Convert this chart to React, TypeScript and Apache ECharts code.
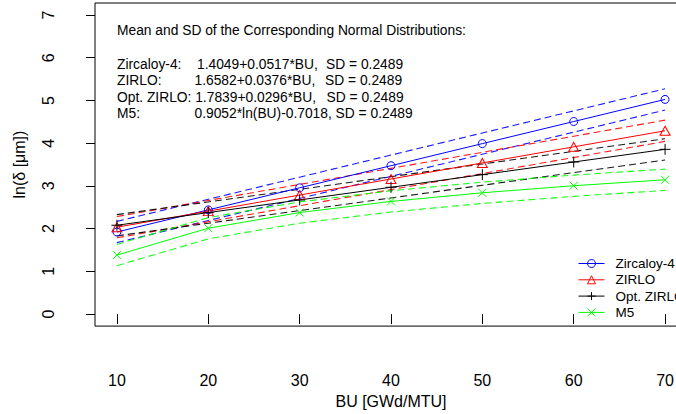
import React, { useEffect, useRef } from "react";
import * as echarts from "echarts";

// Burnup values (x)
const bu = [10, 20, 30, 40, 50, 60, 70];

// Mean of ln(delta) for each alloy
const zircMean = [1.9219, 2.4389, 2.9559, 3.4729, 3.9899, 4.5069, 5.0239];
const zirloMean = [2.0342, 2.4102, 2.7862, 3.1622, 3.5382, 3.9142, 4.2902];
const optMean = [2.0799, 2.3759, 2.6719, 2.9679, 3.2639, 3.5599, 3.8559];
const m5Mean = [1.3825, 2.0099, 2.377, 2.6374, 2.8394, 3.0044, 3.1439];

// Upper / lower dashed bands (mean +/- SD)
const zircUpper = [2.1708, 2.6878, 3.2048, 3.7218, 4.2388, 4.7558, 5.2728];
const zircLower = [1.673, 2.19, 2.707, 3.224, 3.741, 4.258, 4.775];
const zirloUpper = [2.2831, 2.6591, 3.0351, 3.4111, 3.7871, 4.1631, 4.5391];
const zirloLower = [1.7853, 2.1613, 2.5373, 2.9133, 3.2893, 3.6653, 4.0413];
const optUpper = [2.3288, 2.6248, 2.9208, 3.2168, 3.5128, 3.8088, 4.1048];
const optLower = [1.831, 2.127, 2.423, 2.719, 3.015, 3.311, 3.607];
const m5Upper = [1.6314, 2.2588, 2.6259, 2.8863, 3.0883, 3.2533, 3.3928];
const m5Lower = [1.1336, 1.761, 2.1281, 2.3885, 2.5905, 2.7555, 2.895];

const xTicks = [10, 20, 30, 40, 50, 60, 70];
const yTicks = [0, 1, 2, 3, 4, 5, 6, 7];

const seriesNames = ["Zircaloy-4", "ZIRLO", "Opt. ZIRLO", "M5"];

const FONT = "Liberation Sans, Arial, Helvetica, sans-serif";

const pairs = (v: number[]) => bu.map((x, i) => [x, v[i]]);

export default function App() {
  const ref = useRef<HTMLDivElement>(null);

  useEffect(() => {
    if (!ref.current) return;
    const chart = echarts.init(ref.current, null, { renderer: "svg" });

    const colors = ["#0000FF", "#FF0000", "#000000", "#00FF00"];
    const means = [zircMean, zirloMean, optMean, m5Mean];
    const uppers = [zircUpper, zirloUpper, optUpper, m5Upper];
    const lowers = [zircLower, zirloLower, optLower, m5Lower];
    const symbols = [
      "circle",
      "triangle",
      "path://M5,0L5,10M0,5L10,5",
      "path://M0,0L10,10M10,0L0,10",
    ];
    const symbolSizes: any[] = [8, [10, 9], 11, 8];

    const dashed: any[] = [];
    means.forEach((_, k) => {
      [uppers[k], lowers[k]].forEach((arr, j) => {
        dashed.push({
          name: seriesNames[k] + (j === 0 ? " upper" : " lower"),
          type: "line",
          data: pairs(arr),
          symbol: "none",
          silent: true,
          lineStyle: { color: colors[k], width: 1.1, type: [7, 4], opacity: 0.9 },
          z: 2,
        });
      });
    });

    const solid = means.map((arr, k) => ({
      name: seriesNames[k],
      type: "line",
      data: pairs(arr),
      symbol: symbols[k],
      symbolSize: symbolSizes[k],
      silent: true,
      lineStyle: { color: colors[k], width: 1 },
      itemStyle: { color: "rgba(0,0,0,0)", borderColor: colors[k], borderWidth: 1 },
      emphasis: { disabled: true },
      z: 3,
    }));

    const txt = (x: number, y: number, text: string) => ({
      type: "text",
      x,
      y,
      style: {
        text,
        font: `13.8px ${FONT}`,
        fill: "#000",
        textVerticalAlign: "middle",
        verticalAlign: "middle",
      },
    });

    chart.setOption({
      animation: false,
      textStyle: { fontFamily: FONT },
      grid: {
        left: 95,
        top: 3,
        right: 3,
        bottom: 87,
        show: true,
        borderColor: "#000",
        borderWidth: 1,
        containLabel: false,
      },
      xAxis: {
        type: "value",
        min: 7.6,
        max: 72.4,
        axisLine: { show: false },
        splitLine: { show: false },
        axisTick: {
          show: true,
          length: 10,
          customValues: xTicks,
          lineStyle: { color: "#000", width: 1 },
        },
        axisLabel: {
          customValues: xTicks,
          margin: 46,
          fontSize: 16,
          color: "#000",
          fontFamily: FONT,
        },
        name: "BU [GWd/MTU]",
        nameLocation: "middle",
        nameGap: 64,
        nameTextStyle: { fontSize: 16, color: "#000", fontFamily: FONT },
      },
      yAxis: {
        type: "value",
        min: -0.28,
        max: 7.28,
        axisLine: { show: false },
        splitLine: { show: false },
        axisTick: {
          show: true,
          length: 9,
          customValues: yTicks,
          lineStyle: { color: "#000", width: 1 },
        },
        axisLabel: {
          customValues: yTicks,
          rotate: 90,
          margin: 39,
          fontSize: 16,
          color: "#000",
          fontFamily: FONT,
        },
        name: "ln(δ [μm])",
        nameLocation: "middle",
        nameRotate: 90,
        nameGap: 68,
        nameTextStyle: { fontSize: 16, color: "#000", fontFamily: FONT },
      },
      legend: {
        data: seriesNames,
        orient: "vertical",
        left: 573,
        top: 251.5,
        itemWidth: 26,
        itemHeight: 10,
        itemGap: 2.3,
        selectedMode: false,
        lineStyle: { width: 1 },
        itemStyle: { borderWidth: 1 },
        textStyle: {
          fontSize: 13.5,
          lineHeight: 14,
          color: "#000",
          fontFamily: FONT,
          padding: [0, 0, 0, 6],
        },
      },
      graphic: [
        txt(117, 30, "Mean and SD of the Corresponding Normal Distributions:"),
        txt(117, 64, "Zircaloy-4:"),
        txt(197, 64, "1.4049+0.0517*BU,"),
        txt(326, 64, "SD = 0.2489"),
        txt(117, 80.5, "ZIRLO:"),
        txt(194.5, 80.5, "1.6582+0.0376*BU,"),
        txt(325, 80.5, "SD = 0.2489"),
        txt(117, 97, "Opt. ZIRLO: 1.7839+0.0296*BU,"),
        txt(326.5, 97, "SD = 0.2489"),
        txt(117, 113.5, "M5:"),
        txt(194.5, 113.5, "0.9052*ln(BU)-0.7018, SD = 0.2489"),
      ],
      series: [...dashed, ...solid],
    });

    return () => chart.dispose();
  }, []);

  return (
    <div
      style={{
        position: "fixed",
        left: 0,
        top: 0,
        width: 676,
        height: 414,
        overflow: "hidden",
        background: "#fff",
      }}
    >
      <div ref={ref} style={{ width: 690, height: 414 }} />
    </div>
  );
}
